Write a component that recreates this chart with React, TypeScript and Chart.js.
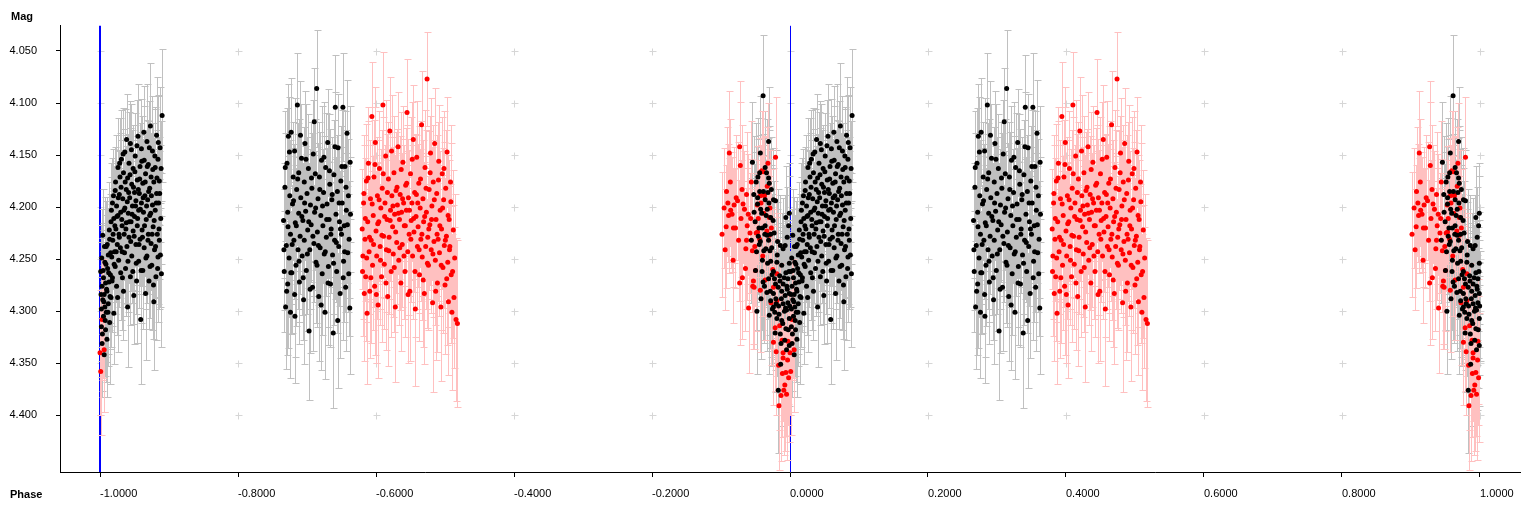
import React, { useEffect, useRef } from "react";
import { Chart, registerables } from "chart.js";

Chart.register(...registerables);

// ---- axis definitions ----
const xTicks = [-1.0, -0.8, -0.6, -0.4, -0.2, 0.0, 0.2, 0.4, 0.6, 0.8, 1.0];
const yTicks = [4.05, 4.1, 4.15, 4.2, 4.25, 4.3, 4.35, 4.4];
const xLimits = [-1.058, 1.058];
const yLimits = [4.0256, 4.4546];
const markerPhases = [-1.0, 0.0];
const xTitle = "Phase";
const yTitle = "Mag";

// ---- observations: [phase, magnitude, error] ----
const blackEgress = [
  [0.001, 4.262, 0.045], [0.002, 4.298, 0.05], [0.002, 4.315, 0.048], [0.003, 4.276, 0.046], [0.003, 4.331, 0.052],
  [0.004, 4.289, 0.047], [0.004, 4.227, 0.044], [0.005, 4.305, 0.049], [0.005, 4.268, 0.046], [0.006, 4.342, 0.055],
  [0.006, 4.284, 0.047], [0.007, 4.296, 0.048], [0.007, 4.253, 0.045], [0.008, 4.318, 0.05], [0.008, 4.273, 0.046],
  [0.009, 4.238, 0.044], [0.009, 4.301, 0.048], [0.01, 4.281, 0.047], [0.01, 4.327, 0.056], [0.011, 4.259, 0.045],
  [0.012, 4.293, 0.048], [0.012, 4.246, 0.045], [0.013, 4.272, 0.046], [0.014, 4.311, 0.059], [0.014, 4.231, 0.044],
  [0.015, 4.265, 0.046], [0.016, 4.214, 0.043], [0.016, 4.287, 0.047], [0.017, 4.248, 0.052], [0.018, 4.196, 0.043],
  [0.018, 4.268, 0.046], [0.019, 4.226, 0.044], [0.02, 4.302, 0.049], [0.02, 4.211, 0.05], [0.021, 4.243, 0.045],
  [0.022, 4.184, 0.042], [0.022, 4.257, 0.046], [0.023, 4.221, 0.054], [0.024, 4.199, 0.043], [0.024, 4.276, 0.047],
  [0.025, 4.236, 0.045], [0.026, 4.162, 0.048], [0.026, 4.208, 0.043], [0.027, 4.251, 0.045], [0.028, 4.188, 0.043],
  [0.028, 4.229, 0.051], [0.029, 4.171, 0.042], [0.03, 4.263, 0.046], [0.03, 4.205, 0.043], [0.031, 4.154, 0.047],
  [0.032, 4.218, 0.044], [0.032, 4.243, 0.053], [0.033, 4.192, 0.043], [0.034, 4.281, 0.047], [0.034, 4.167, 0.042],
  [0.035, 4.226, 0.044], [0.036, 4.201, 0.05], [0.036, 4.147, 0.041], [0.037, 4.259, 0.046], [0.038, 4.183, 0.042],
  [0.038, 4.215, 0.044], [0.039, 4.238, 0.055], [0.04, 4.172, 0.042], [0.04, 4.296, 0.058], [0.041, 4.206, 0.043],
  [0.042, 4.158, 0.049], [0.042, 4.229, 0.044], [0.043, 4.191, 0.043], [0.044, 4.267, 0.046], [0.044, 4.139, 0.041],
  [0.045, 4.214, 0.044], [0.046, 4.178, 0.052], [0.046, 4.247, 0.045], [0.047, 4.199, 0.043], [0.048, 4.163, 0.042],
  [0.048, 4.223, 0.057], [0.049, 4.285, 0.047], [0.05, 4.186, 0.043], [0.05, 4.209, 0.048], [0.051, 4.151, 0.041],
  [0.052, 4.236, 0.045], [0.052, 4.194, 0.043], [0.053, 4.271, 0.06], [0.054, 4.174, 0.042], [0.054, 4.218, 0.044],
  [0.055, 4.132, 0.05], [0.056, 4.203, 0.043], [0.056, 4.252, 0.045], [0.057, 4.187, 0.054], [0.058, 4.161, 0.042],
  [0.058, 4.231, 0.044], [0.059, 4.308, 0.062], [0.06, 4.196, 0.043], [0.06, 4.144, 0.048], [0.061, 4.222, 0.044],
  [0.062, 4.177, 0.042], [0.062, 4.261, 0.056], [0.063, 4.205, 0.043], [0.064, 4.155, 0.052], [0.064, 4.239, 0.045],
  [0.065, 4.189, 0.043], [0.066, 4.283, 0.064], [0.066, 4.168, 0.042], [0.067, 4.212, 0.044], [0.068, 4.137, 0.055],
  [0.068, 4.247, 0.045], [0.069, 4.193, 0.043], [0.07, 4.226, 0.058], [0.07, 4.159, 0.042], [0.071, 4.271, 0.046],
  [0.072, 4.182, 0.043], [0.072, 4.208, 0.05], [0.073, 4.122, 0.06], [0.074, 4.235, 0.045], [0.074, 4.171, 0.042],
  [0.075, 4.256, 0.062], [0.076, 4.198, 0.043], [0.076, 4.146, 0.053], [0.077, 4.219, 0.044], [0.078, 4.291, 0.066],
  [0.078, 4.176, 0.042], [0.079, 4.241, 0.045], [0.08, 4.162, 0.058], [0.08, 4.203, 0.043], [0.081, 4.267, 0.061],
  [0.082, 4.187, 0.043], [0.082, 4.131, 0.056], [0.083, 4.226, 0.044], [0.084, 4.154, 0.062], [0.084, 4.248, 0.045],
  [0.085, 4.196, 0.05], [0.086, 4.175, 0.042], [0.086, 4.232, 0.066], [0.087, 4.143, 0.058], [0.088, 4.211, 0.044],
  [0.089, 4.264, 0.07], [0.09, 4.112, 0.064],
  [0.0015, 4.284, 0.05], [0.0025, 4.249, 0.047], [0.0035, 4.322, 0.055], [0.0045, 4.261, 0.046], [0.0055, 4.291, 0.05],
  [0.0065, 4.238, 0.048], [0.0075, 4.309, 0.053], [0.0085, 4.255, 0.047], [0.0095, 4.279, 0.049], [0.0105, 4.236, 0.046],
  [0.0115, 4.301, 0.052], [0.0125, 4.263, 0.048], [0.0135, 4.222, 0.046], [0.0145, 4.286, 0.05], [0.0155, 4.244, 0.047],
  [0.0165, 4.203, 0.045], [0.0175, 4.271, 0.049], [0.0185, 4.232, 0.047], [0.0195, 4.189, 0.045], [0.0205, 4.255, 0.048],
  [0.0215, 4.218, 0.046], [0.0225, 4.176, 0.045], [0.0235, 4.243, 0.048], [0.0245, 4.209, 0.046], [0.0255, 4.287, 0.052],
  [0.0265, 4.191, 0.045], [0.0275, 4.226, 0.047], [0.0285, 4.158, 0.044], [0.0295, 4.239, 0.048], [0.0305, 4.181, 0.045],
  [0.0315, 4.212, 0.046], [0.0325, 4.268, 0.05], [0.0335, 4.149, 0.044], [0.0345, 4.203, 0.046], [0.0355, 4.244, 0.048],
  [0.0365, 4.176, 0.045], [0.0375, 4.221, 0.047], [0.0385, 4.135, 0.044], [0.0395, 4.195, 0.046], [0.0405, 4.252, 0.049],
  [0.0415, 4.186, 0.045], [0.0425, 4.214, 0.047], [0.0435, 4.169, 0.045], [0.0445, 4.233, 0.048], [0.0455, 4.145, 0.044],
  [0.0465, 4.207, 0.046], [0.0475, 4.262, 0.05], [0.0485, 4.181, 0.045], [0.0495, 4.228, 0.047], [0.0505, 4.166, 0.045],
  [0.0515, 4.199, 0.046], [0.0525, 4.254, 0.049], [0.0535, 4.141, 0.044], [0.0545, 4.211, 0.046], [0.0555, 4.183, 0.045],
  [0.0565, 4.236, 0.048], [0.0575, 4.173, 0.045], [0.0585, 4.202, 0.046], [0.0595, 4.261, 0.05], [0.0605, 4.156, 0.044],
  [0.0615, 4.229, 0.047], [0.0625, 4.191, 0.046], [0.0635, 4.128, 0.044], [0.0645, 4.218, 0.047], [0.0655, 4.176, 0.045],
  [0.0665, 4.249, 0.049], [0.0675, 4.199, 0.046], [0.0685, 4.161, 0.045], [0.0695, 4.232, 0.048], [0.0705, 4.185, 0.046],
  [0.0715, 4.143, 0.045], [0.0725, 4.257, 0.05], [0.0735, 4.206, 0.047], [0.0745, 4.189, 0.046], [0.0755, 4.226, 0.048],
  [0.0765, 4.164, 0.045], [0.0775, 4.275, 0.052], [0.0785, 4.213, 0.047], [0.0795, 4.151, 0.045], [0.0805, 4.238, 0.049],
  [0.0815, 4.196, 0.047], [0.0825, 4.172, 0.046], [0.0835, 4.259, 0.051], [0.0845, 4.138, 0.045], [0.0855, 4.221, 0.048],
  [0.0865, 4.187, 0.047], [0.0875, 4.246, 0.05], [0.0885, 4.163, 0.046],
];

const blackQuadrature = [
  [0.266, 4.213, 0.055], [0.267, 4.262, 0.058], [0.268, 4.181, 0.052], [0.269, 4.296, 0.06], [0.27, 4.237, 0.056],
  [0.271, 4.158, 0.053], [0.272, 4.274, 0.061], [0.272, 4.205, 0.054], [0.273, 4.132, 0.05], [0.274, 4.249, 0.057],
  [0.275, 4.189, 0.053], [0.276, 4.301, 0.063], [0.276, 4.226, 0.055], [0.277, 4.128, 0.052], [0.278, 4.263, 0.058],
  [0.279, 4.197, 0.054], [0.28, 4.171, 0.053], [0.281, 4.232, 0.056], [0.282, 4.284, 0.06], [0.282, 4.146, 0.051],
  [0.283, 4.215, 0.055], [0.284, 4.256, 0.058], [0.285, 4.183, 0.053], [0.286, 4.102, 0.05], [0.287, 4.241, 0.057],
  [0.288, 4.206, 0.055], [0.288, 4.167, 0.052], [0.289, 4.272, 0.06], [0.29, 4.228, 0.056], [0.291, 4.191, 0.054],
  [0.292, 4.153, 0.052], [0.293, 4.247, 0.057], [0.294, 4.213, 0.055], [0.295, 4.289, 0.062], [0.296, 4.176, 0.053],
  [0.296, 4.232, 0.056], [0.297, 4.139, 0.051], [0.298, 4.204, 0.055], [0.299, 4.261, 0.058], [0.3, 4.187, 0.054],
  [0.301, 4.222, 0.056], [0.302, 4.163, 0.052], [0.303, 4.319, 0.066], [0.304, 4.241, 0.057], [0.305, 4.198, 0.054],
  [0.306, 4.217, 0.055], [0.307, 4.182, 0.053], [0.308, 4.277, 0.061], [0.309, 4.149, 0.052], [0.31, 4.235, 0.056],
  [0.311, 4.205, 0.055], [0.312, 4.168, 0.053], [0.313, 4.253, 0.058], [0.314, 4.086, 0.056], [0.315, 4.224, 0.056],
  [0.316, 4.192, 0.054], [0.317, 4.286, 0.062], [0.318, 4.171, 0.053], [0.319, 4.239, 0.057], [0.32, 4.208, 0.055],
  [0.321, 4.155, 0.052], [0.322, 4.264, 0.059], [0.323, 4.218, 0.055], [0.324, 4.186, 0.054], [0.325, 4.245, 0.057],
  [0.326, 4.301, 0.064], [0.327, 4.162, 0.052], [0.328, 4.229, 0.056], [0.329, 4.197, 0.054], [0.33, 4.138, 0.051],
  [0.331, 4.257, 0.058], [0.332, 4.212, 0.055], [0.333, 4.178, 0.053], [0.334, 4.274, 0.06], [0.335, 4.221, 0.056],
  [0.336, 4.193, 0.054], [0.337, 4.246, 0.057], [0.338, 4.321, 0.072], [0.339, 4.169, 0.053], [0.34, 4.232, 0.056],
  [0.341, 4.104, 0.05], [0.342, 4.207, 0.055], [0.343, 4.262, 0.059], [0.344, 4.185, 0.054], [0.345, 4.143, 0.052],
  [0.346, 4.238, 0.057], [0.347, 4.214, 0.055], [0.348, 4.283, 0.062], [0.349, 4.175, 0.053], [0.35, 4.226, 0.056],
  [0.351, 4.196, 0.054], [0.352, 4.104, 0.052], [0.353, 4.252, 0.058], [0.354, 4.218, 0.055], [0.355, 4.161, 0.053],
  [0.356, 4.277, 0.061], [0.357, 4.203, 0.055], [0.358, 4.129, 0.051], [0.359, 4.244, 0.057], [0.36, 4.189, 0.054],
  [0.361, 4.231, 0.056], [0.362, 4.297, 0.063], [0.363, 4.207, 0.055],
  [0.2665, 4.241, 0.058], [0.2685, 4.162, 0.054], [0.2705, 4.281, 0.061], [0.2725, 4.219, 0.056], [0.2745, 4.147, 0.053],
  [0.2765, 4.263, 0.059], [0.2785, 4.236, 0.057], [0.2805, 4.194, 0.055], [0.2825, 4.305, 0.064], [0.2845, 4.218, 0.056],
  [0.2865, 4.173, 0.054], [0.2885, 4.252, 0.058], [0.2905, 4.131, 0.052], [0.2925, 4.209, 0.056], [0.2945, 4.268, 0.06],
  [0.2965, 4.196, 0.055], [0.2985, 4.154, 0.053], [0.3005, 4.245, 0.058], [0.3025, 4.214, 0.056], [0.3045, 4.279, 0.061],
  [0.3065, 4.172, 0.054], [0.3085, 4.228, 0.057], [0.3105, 4.118, 0.052], [0.3125, 4.201, 0.055], [0.3145, 4.256, 0.059],
  [0.3165, 4.237, 0.057], [0.3185, 4.183, 0.055], [0.3205, 4.294, 0.063], [0.3225, 4.199, 0.055], [0.3245, 4.152, 0.053],
  [0.3265, 4.243, 0.058], [0.3285, 4.212, 0.056], [0.3305, 4.273, 0.06], [0.3325, 4.165, 0.054], [0.3345, 4.226, 0.057],
  [0.3365, 4.188, 0.055], [0.3385, 4.254, 0.059], [0.3405, 4.142, 0.053], [0.3425, 4.234, 0.057], [0.3445, 4.309, 0.065],
  [0.3465, 4.196, 0.055], [0.3485, 4.221, 0.056], [0.3505, 4.161, 0.054], [0.3525, 4.268, 0.06], [0.3545, 4.243, 0.058],
  [0.3565, 4.181, 0.055], [0.3585, 4.217, 0.056], [0.3605, 4.264, 0.06], [0.3625, 4.157, 0.054],
];

const blackIngress = [
  [0.961, 4.093, 0.058], [0.969, 4.137, 0.052], [0.957, 4.148, 0.055], [0.956, 4.167, 0.053], [0.964, 4.162, 0.054],
  [0.966, 4.167, 0.052], [0.969, 4.172, 0.05], [0.956, 4.185, 0.054], [0.953, 4.191, 0.056], [0.97, 4.177, 0.051],
  [0.973, 4.183, 0.05], [0.968, 4.186, 0.052], [0.953, 4.197, 0.055], [0.964, 4.193, 0.053], [0.976, 4.193, 0.05],
  [0.979, 4.194, 0.049], [0.967, 4.202, 0.052], [0.972, 4.21, 0.05], [0.999, 4.206, 0.048], [0.994, 4.21, 0.049],
  [0.955, 4.22, 0.055], [0.96, 4.22, 0.054], [0.964, 4.218, 0.053], [0.998, 4.218, 0.048], [0.954, 4.228, 0.056],
  [0.967, 4.227, 0.053], [0.972, 4.226, 0.051], [0.977, 4.225, 0.05], [0.957, 4.233, 0.055], [0.969, 4.232, 0.052],
  [0.982, 4.233, 0.05], [0.986, 4.237, 0.049], [0.993, 4.237, 0.049], [0.996, 4.229, 0.048], [0.962, 4.242, 0.054],
  [0.971, 4.242, 0.052], [0.99, 4.24, 0.049], [0.96, 4.251, 0.055], [0.972, 4.252, 0.052], [0.981, 4.253, 0.051],
  [0.999, 4.254, 0.049], [0.988, 4.256, 0.05], [0.95, 4.261, 0.057], [0.976, 4.262, 0.052], [0.994, 4.263, 0.05],
  [0.985, 4.266, 0.051], [0.969, 4.269, 0.054], [0.997, 4.269, 0.05], [0.961, 4.272, 0.056], [0.979, 4.274, 0.052],
  [0.99, 4.274, 0.051], [0.983, 4.277, 0.052], [0.996, 4.279, 0.051], [0.988, 4.281, 0.052], [0.976, 4.283, 0.053],
  [0.999, 4.283, 0.051], [0.958, 4.288, 0.058], [0.972, 4.29, 0.054], [0.993, 4.285, 0.052], [0.98, 4.293, 0.053],
  [0.99, 4.293, 0.052], [0.976, 4.296, 0.054], [0.995, 4.299, 0.053], [0.984, 4.303, 0.054], [0.97, 4.304, 0.056],
  [0.981, 4.307, 0.055], [0.999, 4.307, 0.054], [0.988, 4.309, 0.055], [0.994, 4.317, 0.056], [0.999, 4.333, 0.058],
  [0.987, 4.331, 0.057], [0.995, 4.337, 0.058], [0.983, 4.376, 0.06], [0.948, 4.205, 0.058], [0.944, 4.232, 0.06],
  [0.951, 4.176, 0.057], [0.959, 4.206, 0.055], [0.965, 4.24, 0.054], [0.974, 4.265, 0.052], [0.978, 4.301, 0.056],
  [0.986, 4.322, 0.057], [0.992, 4.3, 0.054], [0.997, 4.292, 0.053], [0.963, 4.276, 0.055], [0.952, 4.3, 0.06],
  [0.9455, 4.157, 0.058], [0.9475, 4.188, 0.056], [0.9495, 4.214, 0.055], [0.9515, 4.243, 0.056], [0.9535, 4.171, 0.057],
  [0.9555, 4.236, 0.055], [0.9575, 4.202, 0.054], [0.9595, 4.262, 0.056], [0.9615, 4.185, 0.055], [0.9635, 4.226, 0.054],
  [0.9655, 4.208, 0.053], [0.9675, 4.254, 0.054], [0.9695, 4.196, 0.052], [0.9715, 4.281, 0.054], [0.9735, 4.239, 0.052],
  [0.9755, 4.213, 0.051], [0.9775, 4.269, 0.053], [0.9795, 4.288, 0.054], [0.9815, 4.246, 0.051], [0.9835, 4.295, 0.054],
  [0.9855, 4.271, 0.052], [0.9875, 4.288, 0.053], [0.9895, 4.312, 0.055], [0.9915, 4.268, 0.051], [0.9935, 4.297, 0.053],
  [0.9955, 4.276, 0.052], [0.9975, 4.318, 0.056], [0.9985, 4.262, 0.05], [0.9995, 4.295, 0.053], [0.9785, 4.321, 0.057],
  [0.9865, 4.351, 0.059], [0.9745, 4.298, 0.055], [0.9665, 4.282, 0.056], [0.9925, 4.328, 0.057],
];

const redQuadrature = [
  [0.38, 4.221, 0.058], [0.381, 4.247, 0.061], [0.382, 4.196, 0.056], [0.383, 4.283, 0.065], [0.384, 4.231, 0.059],
  [0.385, 4.267, 0.062], [0.386, 4.175, 0.055], [0.387, 4.302, 0.068], [0.388, 4.214, 0.057], [0.389, 4.158, 0.054],
  [0.39, 4.243, 0.06], [0.391, 4.281, 0.064], [0.392, 4.192, 0.056], [0.393, 4.232, 0.059], [0.394, 4.113, 0.052],
  [0.395, 4.256, 0.062], [0.396, 4.208, 0.057], [0.397, 4.171, 0.055], [0.398, 4.276, 0.066], [0.399, 4.138, 0.053],
  [0.4, 4.223, 0.058], [0.401, 4.247, 0.061], [0.402, 4.189, 0.056], [0.403, 4.294, 0.07], [0.404, 4.214, 0.057],
  [0.405, 4.163, 0.055], [0.406, 4.238, 0.06], [0.407, 4.201, 0.057], [0.408, 4.267, 0.063], [0.409, 4.182, 0.056],
  [0.41, 4.102, 0.051], [0.411, 4.228, 0.059], [0.412, 4.255, 0.062], [0.413, 4.196, 0.056], [0.414, 4.151, 0.054],
  [0.415, 4.241, 0.06], [0.416, 4.212, 0.057], [0.417, 4.286, 0.067], [0.418, 4.173, 0.055], [0.419, 4.229, 0.059],
  [0.42, 4.127, 0.052], [0.421, 4.203, 0.057], [0.422, 4.262, 0.063], [0.423, 4.189, 0.056], [0.424, 4.219, 0.058],
  [0.425, 4.245, 0.061], [0.426, 4.167, 0.055], [0.427, 4.207, 0.057], [0.428, 4.296, 0.072], [0.429, 4.184, 0.056],
  [0.43, 4.234, 0.059], [0.431, 4.198, 0.057], [0.432, 4.142, 0.053], [0.433, 4.251, 0.062], [0.434, 4.212, 0.057],
  [0.435, 4.188, 0.056], [0.436, 4.273, 0.065], [0.437, 4.205, 0.057], [0.438, 4.236, 0.06], [0.439, 4.157, 0.054],
  [0.44, 4.196, 0.056], [0.441, 4.218, 0.058], [0.442, 4.262, 0.063], [0.443, 4.179, 0.055], [0.444, 4.203, 0.057],
  [0.445, 4.109, 0.051], [0.446, 4.243, 0.061], [0.447, 4.191, 0.056], [0.448, 4.226, 0.059], [0.449, 4.281, 0.067],
  [0.45, 4.168, 0.055], [0.451, 4.213, 0.057], [0.452, 4.196, 0.056], [0.453, 4.247, 0.061], [0.454, 4.135, 0.052],
  [0.455, 4.224, 0.058], [0.456, 4.186, 0.056], [0.457, 4.298, 0.074], [0.458, 4.209, 0.057], [0.459, 4.152, 0.054],
  [0.46, 4.238, 0.06], [0.461, 4.219, 0.058], [0.462, 4.177, 0.055], [0.463, 4.265, 0.064], [0.464, 4.201, 0.057],
  [0.465, 4.231, 0.059], [0.466, 4.121, 0.052], [0.467, 4.248, 0.061], [0.468, 4.192, 0.056], [0.469, 4.214, 0.057],
  [0.47, 4.283, 0.068], [0.471, 4.162, 0.055], [0.472, 4.238, 0.06], [0.473, 4.205, 0.057], [0.474, 4.077, 0.045],
  [0.475, 4.229, 0.059], [0.476, 4.256, 0.062], [0.477, 4.183, 0.056], [0.478, 4.217, 0.058], [0.479, 4.148, 0.053],
  [0.48, 4.241, 0.061], [0.481, 4.199, 0.057], [0.482, 4.292, 0.086], [0.483, 4.176, 0.055], [0.484, 4.233, 0.059],
  [0.485, 4.139, 0.053], [0.486, 4.251, 0.062], [0.487, 4.212, 0.057], [0.488, 4.187, 0.056], [0.489, 4.273, 0.066],
  [0.49, 4.231, 0.059], [0.491, 4.156, 0.054], [0.492, 4.244, 0.061], [0.493, 4.203, 0.057], [0.494, 4.296, 0.071],
  [0.495, 4.221, 0.058], [0.496, 4.168, 0.055], [0.497, 4.258, 0.063], [0.498, 4.193, 0.056], [0.499, 4.237, 0.06],
  [0.5, 4.275, 0.066], [0.501, 4.182, 0.056], [0.502, 4.228, 0.059], [0.503, 4.147, 0.053], [0.504, 4.253, 0.062],
  [0.505, 4.291, 0.07], [0.506, 4.212, 0.057], [0.507, 4.238, 0.06], [0.508, 4.176, 0.055], [0.509, 4.265, 0.066],
  [0.51, 4.301, 0.075], [0.512, 4.222, 0.058], [0.514, 4.249, 0.062], [0.516, 4.308, 0.078], [0.518, 4.312, 0.08],
  [0.3805, 4.262, 0.062], [0.3825, 4.187, 0.056], [0.3845, 4.211, 0.058], [0.3865, 4.249, 0.061], [0.3885, 4.172, 0.055],
  [0.3905, 4.229, 0.059], [0.3925, 4.268, 0.063], [0.3945, 4.197, 0.057], [0.3965, 4.236, 0.06], [0.3985, 4.159, 0.055],
  [0.4005, 4.284, 0.066], [0.4025, 4.216, 0.058], [0.4045, 4.193, 0.057], [0.4065, 4.251, 0.062], [0.4085, 4.227, 0.059],
  [0.4105, 4.168, 0.055], [0.4125, 4.209, 0.058], [0.4145, 4.273, 0.064], [0.4165, 4.186, 0.056], [0.4185, 4.242, 0.061],
  [0.4205, 4.213, 0.058], [0.4225, 4.146, 0.054], [0.4245, 4.199, 0.057], [0.4265, 4.258, 0.062], [0.4285, 4.224, 0.059],
  [0.4305, 4.181, 0.056], [0.4325, 4.206, 0.058], [0.4345, 4.239, 0.06], [0.4365, 4.164, 0.055], [0.4385, 4.192, 0.057],
  [0.4405, 4.247, 0.061], [0.4425, 4.218, 0.058], [0.4445, 4.177, 0.056], [0.4465, 4.284, 0.066], [0.4485, 4.203, 0.058],
  [0.4505, 4.231, 0.06], [0.4525, 4.154, 0.055], [0.4545, 4.211, 0.058], [0.4565, 4.262, 0.063], [0.4585, 4.188, 0.057],
  [0.4605, 4.196, 0.057], [0.4625, 4.241, 0.061], [0.4645, 4.173, 0.056], [0.4665, 4.226, 0.059], [0.4685, 4.27, 0.064],
  [0.4705, 4.209, 0.058], [0.4725, 4.182, 0.056], [0.4745, 4.254, 0.062], [0.4765, 4.221, 0.059], [0.4785, 4.167, 0.055],
  [0.4805, 4.212, 0.058], [0.4825, 4.245, 0.061], [0.4845, 4.193, 0.057], [0.4865, 4.281, 0.066], [0.4885, 4.226, 0.059],
  [0.4905, 4.174, 0.056], [0.4925, 4.218, 0.058], [0.4945, 4.256, 0.062], [0.4965, 4.201, 0.058], [0.4985, 4.163, 0.055],
  [0.5005, 4.232, 0.06], [0.5025, 4.269, 0.064], [0.5045, 4.208, 0.058], [0.5065, 4.241, 0.061], [0.5085, 4.195, 0.057],
  [0.511, 4.262, 0.064], [0.513, 4.287, 0.068],
];

const redIngress = [
  [0.906, 4.241, 0.058], [0.908, 4.185, 0.062], [0.91, 4.196, 0.057], [0.911, 4.208, 0.055], [0.912, 4.148, 0.06],
  [0.914, 4.203, 0.056], [0.916, 4.207, 0.055], [0.918, 4.22, 0.057], [0.919, 4.198, 0.056], [0.921, 4.22, 0.058],
  [0.922, 4.191, 0.06], [0.924, 4.194, 0.057], [0.927, 4.142, 0.063], [0.927, 4.273, 0.06], [0.928, 4.16, 0.061],
  [0.929, 4.211, 0.056], [0.931, 4.268, 0.059], [0.932, 4.197, 0.057], [0.934, 4.202, 0.056], [0.936, 4.24, 0.058],
  [0.937, 4.188, 0.06], [0.937, 4.232, 0.057], [0.938, 4.218, 0.056], [0.94, 4.297, 0.062], [0.942, 4.225, 0.058],
  [0.943, 4.211, 0.057], [0.944, 4.176, 0.059], [0.946, 4.276, 0.06], [0.947, 4.271, 0.061], [0.948, 4.277, 0.059],
  [0.949, 4.238, 0.057], [0.95, 4.261, 0.058], [0.951, 4.225, 0.056], [0.953, 4.224, 0.057], [0.954, 4.211, 0.056],
  [0.956, 4.231, 0.057], [0.957, 4.28, 0.059], [0.957, 4.189, 0.055], [0.958, 4.196, 0.056], [0.959, 4.165, 0.057],
  [0.961, 4.166, 0.058], [0.962, 4.188, 0.056], [0.962, 4.206, 0.055], [0.963, 4.189, 0.056], [0.964, 4.27, 0.058],
  [0.967, 4.18, 0.057], [0.968, 4.158, 0.058], [0.97, 4.21, 0.056], [0.97, 4.227, 0.057], [0.971, 4.201, 0.056],
  [0.973, 4.22, 0.057], [0.975, 4.26, 0.058], [0.976, 4.277, 0.059], [0.976, 4.33, 0.06], [0.979, 4.152, 0.058],
  [0.98, 4.339, 0.061], [0.981, 4.264, 0.058], [0.981, 4.29, 0.059], [0.984, 4.391, 0.062], [0.985, 4.314, 0.06],
  [0.987, 4.381, 0.063], [0.989, 4.36, 0.061], [0.99, 4.34, 0.06], [0.99, 4.345, 0.061], [0.991, 4.376, 0.062],
  [0.994, 4.359, 0.061], [0.995, 4.38, 0.063], [0.997, 4.329, 0.06], [0.998, 4.364, 0.062], [0.0, 4.34, 0.06],
  [0.001, 4.358, 0.061], [0.003, 4.308, 0.058], [0.005, 4.307, 0.057], [0.006, 4.337, 0.06],
  [0.9015, 4.226, 0.06], [0.9045, 4.201, 0.058], [0.9075, 4.219, 0.059], [0.9135, 4.176, 0.061], [0.9175, 4.251, 0.06],
  [0.9255, 4.232, 0.058], [0.9305, 4.183, 0.062], [0.9355, 4.259, 0.06], [0.9395, 4.207, 0.058], [0.9455, 4.242, 0.059],
  [0.9525, 4.198, 0.057], [0.9605, 4.247, 0.058], [0.9665, 4.223, 0.057], [0.9725, 4.292, 0.06], [0.9785, 4.316, 0.061],
  [0.9835, 4.352, 0.062], [0.9885, 4.328, 0.061], [0.9925, 4.371, 0.063], [0.9965, 4.347, 0.062],
];

// ---- styles ----
const blackPointColor = "#000000";
const redPointColor = "#ff0000";
const blackBarColor = "#c0c0c0";
const redBarColor = "#ffc0c0";
const plusColor = "#d6d6d6";
const markerColor = "#0000ff";
const fontFamily = "'Liberation Sans', Arial, sans-serif";

type Obs = number[];
// every observation is plotted at its phase and again one cycle earlier
function foldTwice(...groups: Obs[][]) {
  const pts: { x: number; y: number; e: number }[] = [];
  groups.forEach((g) =>
    g.forEach(([p, m, e]) => {
      pts.push({ x: p, y: m, e });
      pts.push({ x: p - 1, y: m, e });
    })
  );
  return pts;
}

const backdropPlugin = {
  id: "backdropAndErrors",
  beforeDatasetsDraw(chart: any) {
    const { ctx, chartArea: a, scales } = chart;
    const xs = scales.x;
    const ys = scales.y;
    ctx.save();
    ctx.beginPath();
    ctx.rect(a.left, a.top, a.right - a.left, a.bottom - a.top);
    ctx.clip();

    // "+" grid marks at tick crossings
    ctx.strokeStyle = plusColor;
    ctx.lineWidth = 1;
    ctx.beginPath();
    xTicks.forEach((xv) => {
      yTicks.forEach((yv) => {
        const px = Math.round(xs.getPixelForValue(xv)) + 0.5;
        const py = Math.round(ys.getPixelForValue(yv)) + 0.5;
        ctx.moveTo(px - 3, py);
        ctx.lineTo(px + 4, py);
        ctx.moveTo(px, py - 3);
        ctx.lineTo(px, py + 4);
      });
    });
    ctx.stroke();

    // blue reference lines
    ctx.strokeStyle = markerColor;
    markerPhases.forEach((ph, i) => {
      const w = i === 0 ? 2 : 1;
      ctx.lineWidth = w;
      const px = Math.round(xs.getPixelForValue(ph)) + (w === 1 ? 0.5 : 0);
      ctx.beginPath();
      ctx.moveTo(px, a.top);
      ctx.lineTo(px, a.bottom);
      ctx.stroke();
    });

    // error bars
    ctx.lineWidth = 1;
    chart.data.datasets.forEach((ds: any) => {
      ctx.strokeStyle = ds.barColor;
      ctx.beginPath();
      ds.data.forEach((pt: any) => {
        const px = Math.round(xs.getPixelForValue(pt.x)) + 0.5;
        const top = Math.round(ys.getPixelForValue(pt.y - pt.e)) + 0.5;
        const bot = Math.round(ys.getPixelForValue(pt.y + pt.e)) + 0.5;
        ctx.moveTo(px, top);
        ctx.lineTo(px, bot);
        ctx.moveTo(px - 3, top);
        ctx.lineTo(px + 4, top);
        ctx.moveTo(px - 3, bot);
        ctx.lineTo(px + 4, bot);
      });
      ctx.stroke();
    });
    ctx.restore();
  },
  afterDraw(chart: any) {
    const { ctx } = chart;
    ctx.save();
    ctx.fillStyle = "#000";
    ctx.font = `bold 11px ${fontFamily}`;
    ctx.textBaseline = "middle";
    ctx.textAlign = "left";
    ctx.fillText(yTitle, 11, 17);
    ctx.fillText(xTitle, 10, 495);
    ctx.restore();
  },
};

export default function App() {
  const ref = useRef<HTMLCanvasElement | null>(null);
  useEffect(() => {
    if (!ref.current) return;
    const chart = new Chart(ref.current, {
      type: "scatter",
      data: {
        datasets: [
          {
            label: "black",
            data: foldTwice(blackEgress, blackQuadrature, blackIngress),
            backgroundColor: blackPointColor,
            borderWidth: 0,
            pointRadius: 2.5,
            pointHoverRadius: 2.5,
            barColor: blackBarColor,
          } as any,
          {
            label: "red",
            data: foldTwice(redQuadrature, redIngress),
            backgroundColor: redPointColor,
            borderWidth: 0,
            pointRadius: 2.5,
            pointHoverRadius: 2.5,
            barColor: redBarColor,
          } as any,
        ],
      },
      options: {
        animation: false,
        responsive: false,
        events: [],
        layout: { padding: { top: 24, right: 16, left: 0, bottom: 0 } },
        plugins: { legend: { display: false }, tooltip: { enabled: false } },
        scales: {
          x: {
            type: "linear",
            min: xLimits[0],
            max: xLimits[1],
            afterBuildTicks: (s: any) => {
              s.ticks = xTicks.map((v) => ({ value: v }));
            },
            afterFit: (s: any) => {
              s.height = 40;
            },
            ticks: {
              align: "start",
              autoSkip: false,
              maxRotation: 0,
              padding: 10,
              color: "#000",
              font: { family: fontFamily, size: 11 },
              callback: (v: any) => Number(v).toFixed(4),
            },
            grid: { drawOnChartArea: false, tickLength: 5, color: "#000" },
            border: { color: "#000", width: 1 },
          },
          y: {
            type: "linear",
            reverse: true,
            min: yLimits[0],
            max: yLimits[1],
            afterBuildTicks: (s: any) => {
              s.ticks = yTicks.map((v) => ({ value: v }));
            },
            afterFit: (s: any) => {
              s.width = 60;
            },
            ticks: {
              autoSkip: false,
              padding: 19,
              color: "#000",
              font: { family: fontFamily, size: 11 },
              callback: (v: any) => Number(v).toFixed(3),
            },
            grid: { drawOnChartArea: false, tickLength: 4, color: "#000" },
            border: { color: "#000", width: 1 },
          },
        },
      },
      plugins: [backdropPlugin],
    });
    return () => chart.destroy();
  }, []);
  return (
    <div style={{ position: "fixed", left: 0, top: 0, width: 1536, height: 512, background: "#fff" }}>
      <canvas ref={ref} width={1536} height={512} style={{ width: 1536, height: 512, display: "block" }} />
    </div>
  );
}
